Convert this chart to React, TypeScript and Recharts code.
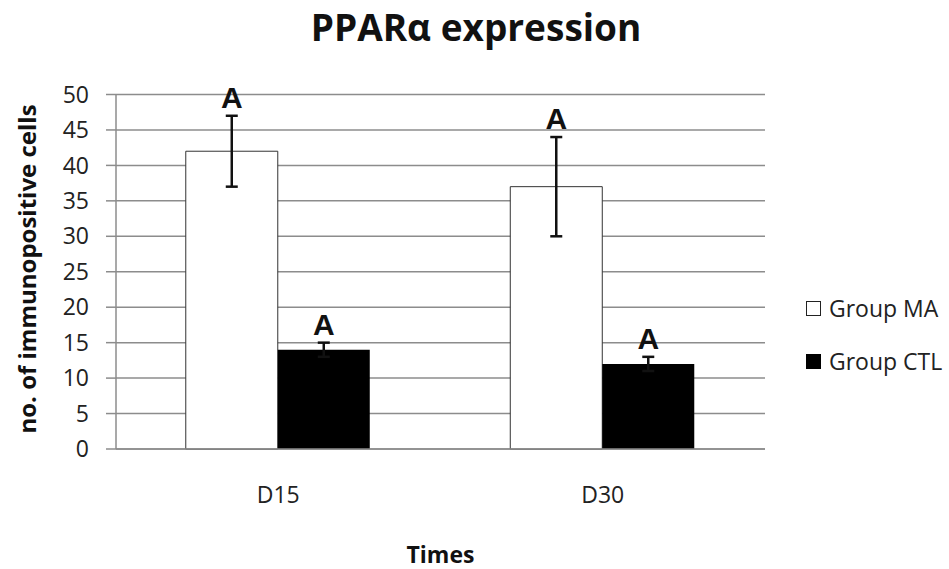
import { BarChart, Bar, XAxis, YAxis, CartesianGrid, ErrorBar, LabelList, Legend } from 'recharts'

const categories = ['D15', 'D30']
const groupMA = [42, 37]
const groupMAErr = [5, 7]
const groupCTL = [14, 12]
const groupCTLErr = [1, 1]
const lettersMA = ['A', 'A']
const lettersCTL = ['A', 'A']
const yTicks = [0, 5, 10, 15, 20, 25, 30, 35, 40, 45, 50]

const data = categories.map((time, i) => ({
  time,
  ma: groupMA[i],
  maErr: groupMAErr[i],
  ctl: groupCTL[i],
  ctlErr: groupCTLErr[i],
}))

const FONT = '"Open Sans", Lato, sans-serif'
const LEGEND_W = 143

// letter sits a little above the top of the error bar
const makeLetter = (errs: number[], letters: string[]) => (props: any) => {
  const vb = props.viewBox || props
  const x = Number(vb.x ?? props.x)
  const y = Number(vb.y ?? props.y)
  const width = Number(vb.width ?? props.width)
  const height = Number(vb.height ?? props.height)
  const value = Number(props.value)
  const i = props.index
  const pxPerUnit = value ? height / value : 0
  const top = y - errs[i] * pxPerUnit
  return (
    <text
      x={x + width / 2}
      y={top - 8}
      textAnchor="middle"
      fontFamily='"Liberation Sans", Arial, sans-serif'
      fontWeight="bold"
      fontSize={30}
      fill="#111"
    >
      {letters[i]}
    </text>
  )
}

const renderLegend = () => (
  <div style={{ fontFamily: FONT, fontSize: 23, color: '#222', lineHeight: 1, whiteSpace: 'nowrap' }}>
    <div style={{ display: 'flex', alignItems: 'center', height: 30 }}>
      <span style={{ width: 13, height: 13, border: '1.5px solid #222', background: '#fff', marginRight: 8 }} />
      Group MA
    </div>
    <div style={{ display: 'flex', alignItems: 'center', height: 30, marginTop: 23 }}>
      <span style={{ width: 15, height: 15, background: '#000', marginRight: 8 }} />
      Group CTL
    </div>
  </div>
)

export default function App() {
  return (
    <div style={{ position: 'absolute', left: 0, top: 0, width: 949, height: 569, background: '#fff' }}>
      <div
        style={{
          position: 'absolute',
          left: 0,
          top: 1,
          width: 952,
          textAlign: 'center',
          fontFamily: FONT,
          fontWeight: 'bold',
          fontSize: 37,
          lineHeight: 'normal',
          color: '#111',
        }}
      >
        PPARα expression
      </div>
      <BarChart
        width={949}
        height={569}
        data={data}
        margin={{ top: 94.5, right: 184 - LEGEND_W, bottom: 50, left: 0 }}
        barCategoryGap="21.5%"
        barGap={0}
      >
        <CartesianGrid vertical={false} stroke="#8c8c8c" strokeWidth={1.5} />
        <XAxis
          dataKey="time"
          height={70}
          stroke="#8c8c8c"
          strokeWidth={1.5}
          tickLine={false}
          tickSize={0}
          tickMargin={38}
          tick={{ fill: '#222', fontSize: 23, fontFamily: FONT }}
          label={{
            content: (p: any) => (
              <text
                x={p.viewBox.x + p.viewBox.width / 2}
                y={p.viewBox.y + 114}
                textAnchor="middle"
                fontFamily={FONT}
                fontWeight="bold"
                fontSize={23}
                fill="#111"
              >
                Times
              </text>
            ),
          }}
        />
        <YAxis
          width={116}
          domain={[0, 50]}
          ticks={yTicks}
          interval={0}
          stroke="#8c8c8c"
          strokeWidth={1.5}
          tickSize={10}
          tickMargin={17}
          tick={{ fill: '#222', fontSize: 23, fontFamily: FONT }}
          label={{
            content: () => (
              <text
                transform="translate(36, 269) rotate(-90)"
                textAnchor="middle"
                fontFamily={FONT}
                fontWeight="bold"
                fontSize={24}
                fill="#111"
              >
                no. of immunopositive cells
              </text>
            ),
          }}
        />
        <Legend
          layout="horizontal"
          verticalAlign="middle"
          align="right"
          content={renderLegend}
          wrapperStyle={{ left: 806, top: 293, width: LEGEND_W }}
        />
        <Bar dataKey="ma" name="Group MA" fill="#fff" stroke="#333" strokeWidth={1} isAnimationActive={false}>
          <ErrorBar dataKey="maErr" width={6} stroke="#111" strokeWidth={2.5} />
          <LabelList dataKey="ma" content={makeLetter(groupMAErr, lettersMA)} />
        </Bar>
        <Bar dataKey="ctl" name="Group CTL" fill="#000" isAnimationActive={false}>
          <ErrorBar dataKey="ctlErr" width={6} stroke="#111" strokeWidth={2.5} />
          <LabelList dataKey="ctl" content={makeLetter(groupCTLErr, lettersCTL)} />
        </Bar>
      </BarChart>
    </div>
  )
}
